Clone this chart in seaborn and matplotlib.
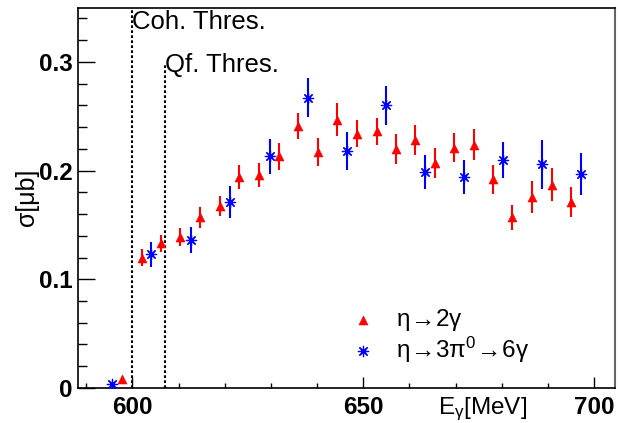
import matplotlib
matplotlib.use('Agg')
import matplotlib.pyplot as plt
import seaborn as sns
import pandas as pd
from matplotlib.ticker import MultipleLocator

# eta -> 2 gamma
e_2g = [597.7, 602.0, 606.3, 610.4, 614.7, 618.9, 623.2, 627.5, 631.8, 635.9, 640.2, 644.4,
        648.6, 652.9, 657.0, 661.3, 665.5, 669.7, 673.9, 678.1, 682.3, 686.6, 690.8, 695.0]
s_2g = [0.008, 0.120, 0.133, 0.139, 0.157, 0.167, 0.194, 0.196, 0.213, 0.241, 0.217, 0.247,
        0.234, 0.236, 0.220, 0.228, 0.207, 0.221, 0.224, 0.192, 0.157, 0.176, 0.187, 0.171]
err_2g = [0.001, 0.0074, 0.0075, 0.008, 0.0095, 0.0092, 0.0107, 0.011, 0.0123, 0.012, 0.0129, 0.0149,
          0.0126, 0.0121, 0.0136, 0.0137, 0.0135, 0.0135, 0.0144, 0.0132, 0.0115, 0.0146, 0.0152, 0.0138]

# eta -> 3pi0 -> 6 gamma
e_6g = [595.6, 604.1, 612.6, 621.1, 629.7, 638.0, 646.5, 654.9, 663.3, 671.8, 680.2, 688.7, 697.1]
s_6g = [0.004, 0.123, 0.136, 0.171, 0.213, 0.267, 0.218, 0.260, 0.199, 0.194, 0.210, 0.206, 0.197]
err_6g = [0.001, 0.0116, 0.0118, 0.015, 0.0158, 0.018, 0.0173, 0.018, 0.0158, 0.016, 0.0166, 0.0225, 0.0195]

coh_thres = 600.0
qf_thres = 607.0

df_2g = pd.DataFrame({'E': e_2g, 'sigma': s_2g, 'err': err_2g})
df_6g = pd.DataFrame({'E': e_6g, 'sigma': s_6g, 'err': err_6g})

sns.set_theme(style='white')
plt.rcParams['font.family'] = ['Liberation Sans', 'DejaVu Sans']
plt.rcParams['mathtext.default'] = 'regular'
plt.rcParams['text.color'] = 'black'
plt.rcParams['axes.labelcolor'] = 'black'
plt.rcParams['xtick.color'] = 'black'
plt.rcParams['ytick.color'] = 'black'

fig = plt.figure(figsize=(6.18, 4.23), dpi=100)
ax = fig.add_axes([0.126, 0.083, 0.869, 0.899])

# error bars
ax.errorbar(df_2g['E'], df_2g['sigma'], yerr=df_2g['err'], fmt='none', ecolor='red',
            elinewidth=1.5, capsize=0, zorder=2)
ax.errorbar(df_6g['E'], df_6g['sigma'], yerr=df_6g['err'], fmt='none', ecolor='blue',
            elinewidth=1.5, capsize=0, zorder=2)

sns.scatterplot(data=df_2g, x='E', y='sigma', marker='^', color='red', s=42,
                edgecolor='red', linewidth=0.4,
                label='$\\eta\\!\\rightarrow\\!2\\gamma$', ax=ax, zorder=3)
sns.scatterplot(data=df_6g, x='E', y='sigma', marker=(8, 2, 0), color='blue', s=55,
                linewidth=0.9,
                label='$\\eta\\!\\rightarrow\\!3\\pi^{0}\\!\\rightarrow\\!6\\gamma$',
                ax=ax, zorder=3)

# thresholds
ax.plot([coh_thres, coh_thres], [0, 0.35], color='black', lw=1.5, ls=(0, (1.3, 1.1)), zorder=1)
ax.plot([qf_thres, qf_thres], [0, 0.297], color='black', lw=1.5, ls=(0, (1.3, 1.1)), zorder=1)
ax.text(coh_thres, 0.330, 'Coh. Thres.', fontsize=18.5, ha='left', va='baseline')
ax.text(qf_thres, 0.291, 'Qf. Thres.', fontsize=18.5, ha='left', va='baseline')

ax.set_xlim(588.2, 704.5)
ax.set_ylim(0, 0.35)
ax.xaxis.set_major_locator(MultipleLocator(50))
ax.xaxis.set_minor_locator(MultipleLocator(10))
ax.yaxis.set_major_locator(MultipleLocator(0.1))
ax.yaxis.set_minor_locator(MultipleLocator(0.02))
ax.yaxis.set_major_formatter(plt.FuncFormatter(lambda v, p: '0' if v == 0 else f'{v:.1f}'))
ax.tick_params(axis='both', which='both', direction='in', bottom=True, left=True,
               top=False, right=False, labelsize=17.5, width=1, color='black')
ax.tick_params(axis='x', which='major', length=8, pad=6)
ax.tick_params(axis='x', which='minor', length=3.5)
ax.tick_params(axis='y', which='major', length=12, pad=4)
ax.tick_params(axis='y', which='minor', length=6.5)
for lbl in ax.get_xticklabels() + ax.get_yticklabels():
    lbl.set_fontweight('bold')

for side in ['left', 'bottom', 'top']:
    ax.spines[side].set_color('black')
    ax.spines[side].set_linewidth(1.2)
ax.spines['right'].set_color('#666666')
ax.spines['right'].set_linewidth(1.5)

ax.set_xlabel('E$_{\\gamma}$[MeV]', fontsize=17.5)
ax.xaxis.set_label_coords(0.754, -0.02)
ax.set_ylabel('σ[μb]', fontsize=18)
ax.yaxis.set_label_coords(-0.072, 0.5)

ax.legend(loc='center left', bbox_to_anchor=(0.508, 0.136), frameon=False, fontsize=17.5,
          handlelength=1.0, handletextpad=0.87, labelspacing=0.05, borderpad=0, borderaxespad=0)

fig.savefig('out.png', dpi=100)
